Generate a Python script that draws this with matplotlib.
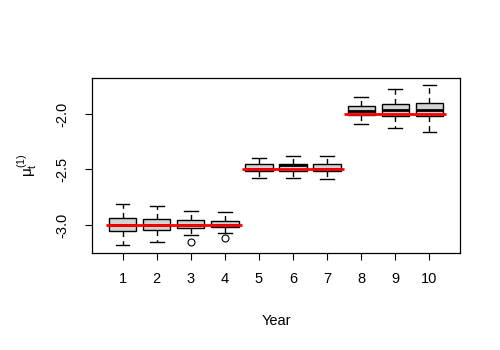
import matplotlib
matplotlib.use("Agg")
import matplotlib.pyplot as plt

plt.rcParams['font.family'] = ['Liberation Sans', 'DejaVu Sans']
plt.rcParams['mathtext.fontset'] = 'custom'
plt.rcParams['mathtext.rm'] = 'Liberation Sans'
plt.rcParams['mathtext.it'] = 'Liberation Sans'

# Data
years = [1, 2, 3, 4, 5, 6, 7, 8, 9, 10]
whislo = [-3.18, -3.15, -3.087, -3.069, -2.579, -2.579, -2.588, -2.09, -2.129, -2.165]
q1 = [-3.057, -3.042, -3.030, -3.018, -2.511, -2.514, -2.514, -2.012, -2.021, -2.021]
med = [-3.0, -3.0, -3.0, -3.0, -2.5, -2.462, -2.5, -1.970, -1.967, -1.964]
q3 = [-2.94, -2.949, -2.958, -2.961, -2.453, -2.45, -2.45, -1.931, -1.91, -1.904]
whishi = [-2.808, -2.829, -2.871, -2.886, -2.399, -2.378, -2.378, -1.85, -1.777, -1.741]
fliers = [[], [], [-3.150], [-3.114], [], [], [], [], [], []]

# true values (red segments)
true_start = [0.5, 4.5, 7.5]
true_end = [4.5, 7.5, 10.5]
true_val = [-3.0, -2.5, -2.0]

stats = []
for i in range(len(years)):
    stats.append(dict(whislo=whislo[i], q1=q1[i], med=med[i], q3=q3[i],
                      whishi=whishi[i], fliers=fliers[i]))

fig = plt.figure(figsize=(5, 3.5), dpi=100)
ax = fig.add_axes([92 / 500, 1 - 253 / 350, 368 / 500, 175 / 350])

ax.bxp(stats, positions=years, widths=0.8, patch_artist=True,
       boxprops=dict(facecolor='#D3D3D3', edgecolor='black', linewidth=1),
       medianprops=dict(color='black', linewidth=2),
       whiskerprops=dict(color='black', linewidth=1, linestyle=(0, (4, 3))),
       capprops=dict(color='black', linewidth=1),
       flierprops=dict(marker='o', markerfacecolor='none', markeredgecolor='black',
                       markersize=5, markeredgewidth=0.8),
       capwidths=0.4)

ax.hlines(true_val, true_start, true_end, colors='red', linewidth=2, zorder=5)

ax.set_xlim(0.1, 10.9)
ax.set_ylim(-3.252, -1.676)
ax.set_xticks(years)
ax.set_xticklabels([str(y) for y in years])
ax.set_yticks([-3.0, -2.5, -2.0])
ax.set_yticklabels(['-3.0', '-2.5', '-2.0'], rotation=90, va='center')
ax.tick_params(axis='both', direction='out', length=5, width=0.8, labelsize=10.5)
ax.tick_params(axis='x', pad=9)
ax.tick_params(axis='y', pad=11)

for s in ax.spines.values():
    s.set_linewidth(0.9)

ax.set_xlabel('Year', fontsize=10.5, labelpad=20)
ax.set_ylabel(r'$\mu_t^{(1)}$', fontsize=11, labelpad=12)

fig.savefig('out.png', dpi=100)
